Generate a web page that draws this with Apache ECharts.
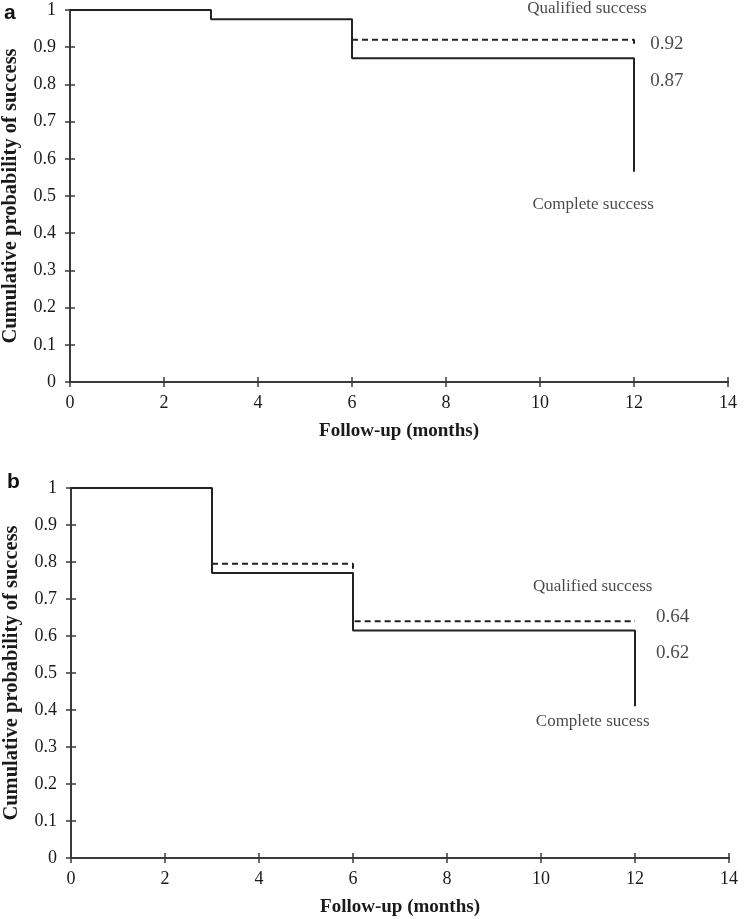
<!DOCTYPE html>
<html>
<head>
<meta charset="utf-8">
<script src="https://cdn.jsdelivr.net/npm/echarts@6/dist/echarts.min.js"></script>
<style>html,body{margin:0;padding:0;background:#fff}#c{width:746px;height:919px}</style>
</head>
<body>
<div id="c"></div>
<script>
// ---- data ----
const xTicks = [0, 2, 4, 6, 8, 10, 12, 14];
const yTicks = [0, 0.1, 0.2, 0.3, 0.4, 0.5, 0.6, 0.7, 0.8, 0.9, 1];

// panel a
const aCompleteX = [0, 3, 6, 12, 12];
const aCompleteY = [1, 0.975, 0.87, 0.87, 0.565];
const aQualifiedX = [6, 12, 12];
const aQualifiedY = [0.92, 0.92, 0.90];
const aNoteText = ['Qualified success', '0.92', '0.87', 'Complete success'];
const aNoteX = [11.0, 12.7, 12.7, 11.13];
const aNoteY = [1.004, 0.909, 0.809, 0.478];

// panel b
const bCompleteX = [0, 3, 6, 12, 12];
const bCompleteY = [1, 0.77, 0.615, 0.615, 0.41];
const bQualifiedX = [3, 6, 6, 12];
const bQualifiedY = [0.795, 0.795, 0.64, 0.64];
const bNoteText = ['Qualified success', '0.64', '0.62', 'Complete sucess'];
const bNoteX = [11.1, 12.8, 12.8, 11.1];
const bNoteY = [0.735, 0.651, 0.554, 0.370];

const panelLetters = ['a', 'b'];
const xName = 'Follow-up (months)';
const yName = 'Cumulative probability of success';

// ---- styling ----
const SERIF = '"Liberation Serif", "Times New Roman", serif';
const AX = '#3a3a3a';
const INK = '#222';
const TXT = '#1a1a1a';

const zip = (xs, ys) => xs.map((x, i) => [x, ys[i]]);

function xAxes(gi) {
  const base = {
    type: 'value', gridIndex: gi, min: xTicks[0], max: xTicks[xTicks.length - 1],
    interval: xTicks[1] - xTicks[0], position: 'bottom', splitLine: { show: false },
    axisLine: { show: true, lineStyle: { color: AX, width: 2 } },
    axisTick: { show: true, length: 5, lineStyle: { color: AX, width: 1.5 } }
  };
  return [
    Object.assign({}, base, {
      name: xName, nameLocation: 'middle', nameGap: 40,
      nameTextStyle: { fontFamily: SERIF, fontWeight: 'bold', fontSize: 19, color: TXT },
      axisLabel: { fontFamily: SERIF, fontSize: 18, color: TXT, margin: 12 }
    }),
    Object.assign({}, base, {
      axisTick: { show: true, inside: true, length: 5, lineStyle: { color: AX, width: 1.5 } },
      axisLabel: { show: false }
    })
  ];
}
function yAxes(gi) {
  const base = {
    type: 'value', gridIndex: gi, min: yTicks[0], max: yTicks[yTicks.length - 1],
    interval: 0.1, position: 'left', splitLine: { show: false },
    axisLine: { show: true, lineStyle: { color: AX, width: 2 } },
    axisTick: { show: true, length: 5, lineStyle: { color: AX, width: 1.5 } }
  };
  return [
    Object.assign({}, base, {
      name: yName, nameLocation: 'middle', nameGap: 49,
      nameTextStyle: { fontFamily: SERIF, fontWeight: 'bold', fontSize: 20.5, color: TXT },
      axisLabel: { fontFamily: SERIF, fontSize: 18, color: TXT, margin: 14,
        formatter: v => String(Math.round(v * 10) / 10) }
    }),
    Object.assign({}, base, {
      axisTick: { show: true, inside: true, length: 5, lineStyle: { color: AX, width: 1.5 } },
      axisLabel: { show: false }
    })
  ];
}

function lineSeries(xi, yi, xs, ys, dashed) {
  return {
    type: 'line', xAxisIndex: xi, yAxisIndex: yi, data: zip(xs, ys), step: 'end',
    symbol: 'none', silent: true, clip: false,
    lineStyle: { color: INK, width: 2, type: dashed ? [6, 4] : 'solid' }
  };
}
function noteSeries(xi, yi, texts, xs, ys) {
  return {
    type: 'scatter', xAxisIndex: xi, yAxisIndex: yi, symbolSize: 0, clip: false, silent: true,
    data: texts.map((t, i) => ({
      name: t, value: [xs[i], ys[i]],
      label: /^[0-9.]+$/.test(t) ? { fontSize: 19 } : undefined
    })),
    label: {
      show: true, position: 'inside', formatter: p => p.name, color: TXT,
      fontFamily: SERIF, align: 'center', verticalAlign: 'middle', fontSize: 17
    }
  };
}

const letterStyle = { fontFamily: '"Liberation Sans", Arial, sans-serif', fontWeight: 'bold', fontSize: 21, color: '#111' };

const option = {
  animation: false,
  backgroundColor: '#fff',
  title: [
    { text: panelLetters[0], left: -1, top: -2, textStyle: letterStyle },
    { text: panelLetters[1], left: 2, top: 467, textStyle: letterStyle }
  ],
  grid: [
    { left: 70, top: 10, width: 658, height: 372, outerBoundsMode: 'none', containLabel: false },
    { left: 71, top: 488, width: 658, height: 370, outerBoundsMode: 'none', containLabel: false }
  ],
  xAxis: xAxes(0).concat(xAxes(1)),
  yAxis: yAxes(0).concat(yAxes(1)),
  series: [
    lineSeries(0, 0, aCompleteX, aCompleteY, false),
    lineSeries(0, 0, aQualifiedX, aQualifiedY, true),
    noteSeries(0, 0, aNoteText, aNoteX, aNoteY),
    lineSeries(2, 2, bCompleteX, bCompleteY, false),
    lineSeries(2, 2, bQualifiedX, bQualifiedY, true),
    noteSeries(2, 2, bNoteText, bNoteX, bNoteY)
  ]
};

const chart = echarts.init(document.getElementById('c'), null, { renderer: 'canvas' });
chart.setOption(option);
</script>
</body>
</html>
